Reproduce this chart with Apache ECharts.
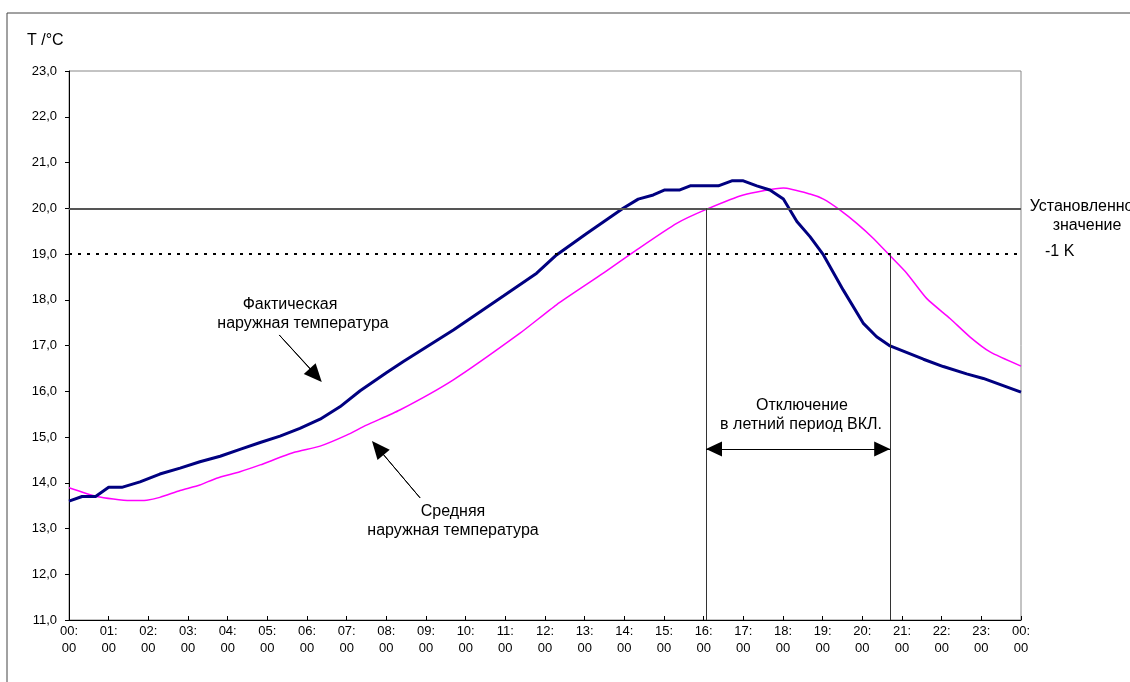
<!DOCTYPE html>
<html>
<head>
<meta charset="utf-8">
<script src="https://cdn.jsdelivr.net/npm/echarts@6/dist/echarts.min.js"></script>
<style>
html,body{margin:0;padding:0;background:#fff;}
#chart{width:1130px;height:682px;}
</style>
</head>
<body>
<div id="chart"></div>
<script>
// ---- Data ----
const xTickTop = ['00:','01:','02:','03:','04:','05:','06:','07:','08:','09:','10:','11:','12:','13:','14:','15:','16:','17:','18:','19:','20:','21:','22:','23:','00:'];
const xTickBottom = '00';

// Actual outside temperature (hours, °C)
const actualHours = [0, 0.33, 0.67, 1.0, 1.33, 1.79, 2.29, 2.8, 3.3, 3.81, 4.31, 4.82, 5.32, 5.82, 6.33, 6.83, 7.34, 8.01, 8.43, 9.69, 10.95, 11.79, 12.29, 13.05, 13.97, 14.35, 14.73, 15.02, 15.40, 15.66, 16.37, 16.71, 17.0, 17.34, 17.67, 18.01, 18.35, 18.68, 19.02, 19.52, 20.02, 20.36, 20.70, 21.54, 22.04, 22.63, 23.05, 24.0];
const actualTemps = [13.6, 13.7, 13.7, 13.9, 13.9, 14.02, 14.19, 14.32, 14.46, 14.58, 14.73, 14.88, 15.02, 15.19, 15.39, 15.66, 16.01, 16.41, 16.65, 17.34, 18.08, 18.58, 18.98, 19.45, 20.0, 20.2, 20.29, 20.4, 20.4, 20.49, 20.49, 20.6, 20.6, 20.49, 20.4, 20.2, 19.71, 19.38, 18.98, 18.21, 17.49, 17.19, 16.99, 16.7, 16.54, 16.38, 16.28, 15.98];

// Average outside temperature (hours, °C)
const averageHours = [0, 0.70, 1.54, 1.96, 2.29, 2.80, 3.30, 3.72, 4.31, 4.82, 5.66, 6.33, 7.0, 7.50, 8.34, 9.69, 11.37, 12.29, 13.47, 14.31, 15.32, 16.08, 17.0, 18.01, 18.68, 19.02, 19.44, 19.86, 20.28, 20.70, 21.12, 21.62, 22.21, 22.71, 23.22, 24.0];
const averageTemps = [13.89, 13.70, 13.61, 13.62, 13.68, 13.83, 13.95, 14.10, 14.24, 14.39, 14.66, 14.80, 15.04, 15.26, 15.59, 16.25, 17.27, 17.89, 18.58, 19.09, 19.67, 19.98, 20.29, 20.44, 20.31, 20.20, 19.96, 19.67, 19.34, 18.96, 18.58, 18.03, 17.59, 17.19, 16.86, 16.55];

const setpoint = 20.0;
const setpointMinus = 19.0;
const offStart = 16.06;   // hour where average reaches setpoint
const offEnd = 20.70;     // hour where average drops below setpoint -1 K

// ---- Chart ----
const chart = echarts.init(document.getElementById('chart'), null, {renderer: 'canvas'});
const FONT = '"Liberation Sans", Arial, sans-serif';

const actualData = actualHours.map((h, i) => [h, actualTemps[i]]);
const averageData = averageHours.map((h, i) => [h, averageTemps[i]]);

function seg(a, b, style, sym) {
  const s0 = {coord: a, lineStyle: style};
  const s1 = {coord: b, lineStyle: style};
  if (sym) {
    s0.symbol = sym[0]; s0.symbolSize = sym[2];
    s1.symbol = sym[1]; s1.symbolSize = sym[2];
  }
  return [s0, s1];
}

const thin = {color: '#000', width: 1, type: 'solid'};

const option = {
  animation: false,
  backgroundColor: '#fff',
  grid: {left: 69, right: 109, top: 71, bottom: 62, show: true, borderColor: '#888', borderWidth: 1, containLabel: false},
  xAxis: {
    type: 'value', min: 0, max: 24, interval: 1,
    axisLine: {show: true, onZero: false, lineStyle: {color: '#000', width: 1}},
    axisTick: {show: true, inside: true, length: 4, lineStyle: {color: '#000'}},
    splitLine: {show: false},
    axisLabel: {
      margin: 3, color: '#000', fontFamily: FONT, fontSize: 13, lineHeight: 17,
      formatter: v => xTickTop[Math.round(v)] + '\n' + xTickBottom
    }
  },
  yAxis: {
    type: 'value', min: 11, max: 23, interval: 1,
    axisLine: {show: true, onZero: false, lineStyle: {color: '#000', width: 1}},
    axisTick: {show: true, length: 4, lineStyle: {color: '#000'}},
    splitLine: {show: false},
    axisLabel: {
      margin: 12, color: '#000', fontFamily: FONT, fontSize: 13,
      formatter: v => v.toFixed(1).replace('.', ',')
    }
  },
  series: [
    {
      name: 'Средняя наружная температура',
      type: 'line', data: averageData, showSymbol: false, smooth: 0.2,
      lineStyle: {color: '#ff00ff', width: 1.5}, z: 3,
      markLine: {
        silent: true, symbol: 'none', label: {show: false}, animation: false,
        data: [
          seg([0, setpoint], [24, setpoint], {color: '#555', width: 2, type: 'solid'}),
          seg([0, setpointMinus], [24, setpointMinus], {color: '#000', width: 2, type: [3, 6]}),
          seg([offStart, setpoint], [offStart, 11], {color: '#333', width: 1, type: 'solid'}),
          seg([offEnd, setpointMinus], [offEnd, 11], {color: '#333', width: 1, type: 'solid'}),
          seg([offStart, 14.74], [offEnd, 14.74], thin),
          seg([offStart + 0.2, 14.74], [offEnd - 0.2, 14.74], thin, ['triangle', 'triangle', [15, 16]]),
          seg([5.30, 17.23], [6.30, 16.29], thin),
          seg([5.30, 17.23], [6.22, 16.35], thin, ['none', 'triangle', [16, 18]]),
          seg([8.85, 13.67], [7.70, 14.85], thin),
          seg([8.85, 13.67], [7.785, 14.76], thin, ['none', 'triangle', [16, 18]])
        ],
        itemStyle: {color: '#000'}
      }
    },
    {
      name: 'Фактическая наружная температура',
      type: 'line', data: actualData, showSymbol: false,
      lineStyle: {color: '#000080', width: 3}, z: 4
    }
  ],
  graphic: [
    {type: 'rect', z: -10, shape: {x: 7, y: 13, width: 1200, height: 700}, style: {fill: 'none', stroke: '#444', lineWidth: 1}},
    {type: 'text', style: {text: 'T /°C', x: 27, y: 41, font: '16px ' + FONT, fill: '#000', textVerticalAlign: 'middle'}},
    {type: 'text', style: {text: 'Фактическая', x: 290, y: 305, font: '16px ' + FONT, fill: '#000', textAlign: 'center', textVerticalAlign: 'middle'}},
    {type: 'text', style: {text: 'наружная температура', x: 303, y: 324, font: '16px ' + FONT, fill: '#000', textAlign: 'center', textVerticalAlign: 'middle'}},
    {type: 'text', style: {text: 'Средняя', x: 453, y: 512, font: '16px ' + FONT, fill: '#000', textAlign: 'center', textVerticalAlign: 'middle'}},
    {type: 'text', style: {text: 'наружная температура', x: 453, y: 531, font: '16px ' + FONT, fill: '#000', textAlign: 'center', textVerticalAlign: 'middle'}},
    {type: 'text', style: {text: 'Отключение', x: 802, y: 406, font: '16px ' + FONT, fill: '#000', textAlign: 'center', textVerticalAlign: 'middle'}},
    {type: 'text', style: {text: 'в летний период ВКЛ.', x: 801, y: 425, font: '16px ' + FONT, fill: '#000', textAlign: 'center', textVerticalAlign: 'middle'}},
    {type: 'text', style: {text: 'Установленное', x: 1086, y: 207, font: '16px ' + FONT, fill: '#000', textAlign: 'center', textVerticalAlign: 'middle'}},
    {type: 'text', style: {text: 'значение', x: 1087, y: 226, font: '16px ' + FONT, fill: '#000', textAlign: 'center', textVerticalAlign: 'middle'}},
    {type: 'text', style: {text: '-1 K', x: 1045, y: 252, font: '16px ' + FONT, fill: '#000', textVerticalAlign: 'middle'}}
  ]
};
chart.setOption(option);
</script>
</body>
</html>
